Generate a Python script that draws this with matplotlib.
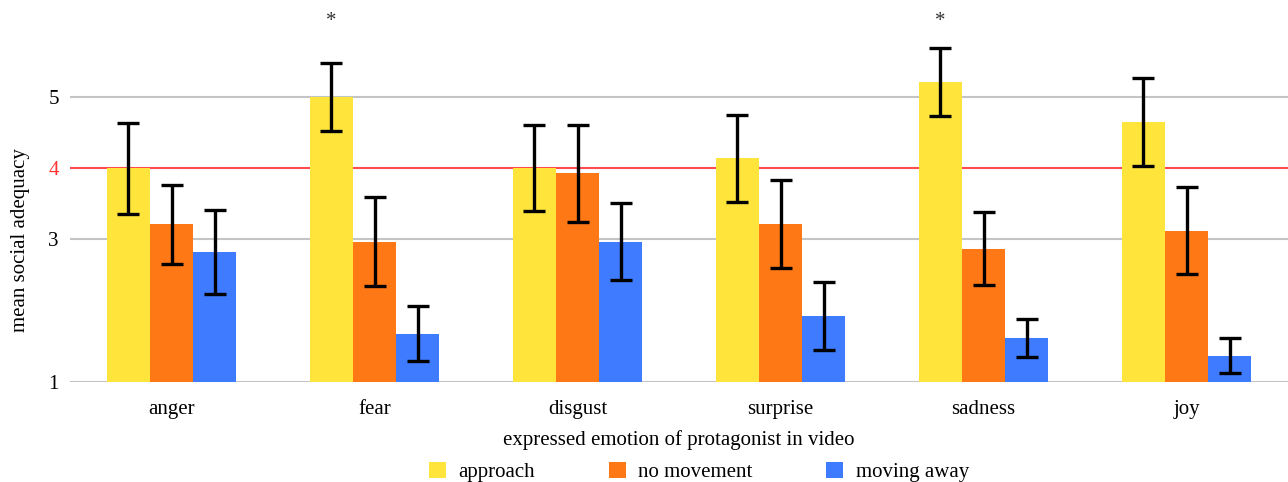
import matplotlib
matplotlib.use("Agg")
import matplotlib.pyplot as plt
import numpy as np

plt.rcParams['font.family'] = ['Liberation Serif', 'DejaVu Serif']

emotions = ["anger", "fear", "disgust", "surprise", "sadness", "joy"]
series = ["approach", "no movement", "moving away"]
colors = ["#ffe53b", "#fe7816", "#3e7bff"]

approach = [4.00, 5.00, 4.00, 4.14, 5.21, 4.65]
no_movement = [3.21, 2.97, 3.93, 3.22, 2.87, 3.12]
moving_away = [2.83, 1.68, 2.97, 1.93, 1.62, 1.37]

approach_err = [0.64, 0.48, 0.60, 0.61, 0.48, 0.62]
no_movement_err = [0.56, 0.62, 0.68, 0.62, 0.51, 0.61]
moving_away_err = [0.59, 0.39, 0.54, 0.48, 0.27, 0.25]

significant = [1, 4]  # fear, sadness (approach)

values = [approach, no_movement, moving_away]
errors = [approach_err, no_movement_err, moving_away_err]

fig = plt.figure(figsize=(12.88, 4.82), dpi=100)
ax = fig.add_axes([70 / 1288, 100 / 482, 1218 / 1288, 382 / 482])

x = np.arange(len(emotions))
w = 0.212
for i in range(3):
    ax.bar(x + (i - 1) * w, values[i], w, color=colors[i], label=series[i], zorder=2)
    ax.errorbar(x + (i - 1) * w, values[i], yerr=errors[i], fmt="none", ecolor="black",
                elinewidth=2.4, capsize=8, capthick=2.4, zorder=3)

for k in significant:
    ax.text(x[k] - w, 6.06, "*", ha="center", va="center", fontsize=15, color="#333333")

for v in [1, 3, 5]:
    ax.axhline(v, color="#c4c4c4", lw=1.5, zorder=1)
ax.axhline(4, color="#ff4d4d", lw=1.5, zorder=1)

ax.set_xlim(-0.5, 5.5)
ax.set_ylim(1, 6.36)
ax.set_yticks([1, 3, 4, 5])
ax.set_yticklabels(["1", "3", "4", "5"])
ax.get_yticklabels()[2].set_color("#ff3333")
ax.set_xticks(x)
ax.set_xticklabels(emotions)
ax.tick_params(length=0, labelsize=15, pad=13)
ax.tick_params(axis="y", pad=8)
for s in ax.spines.values():
    s.set_visible(False)

ax.set_xlabel("expressed emotion of protagonist in video", fontsize=15, labelpad=8)
ax.set_ylabel("mean social adequacy", fontsize=15)
ax.yaxis.set_label_coords(-40 / 1218, 142 / 382)

ax.legend(loc="center", bbox_to_anchor=(0.5 + 20 / 1218, -0.235), ncol=3, frameon=False,
          fontsize=15, handlelength=0.8, handleheight=0.8, columnspacing=3.55, handletextpad=0.6)

fig.savefig("out.png", dpi=100)
